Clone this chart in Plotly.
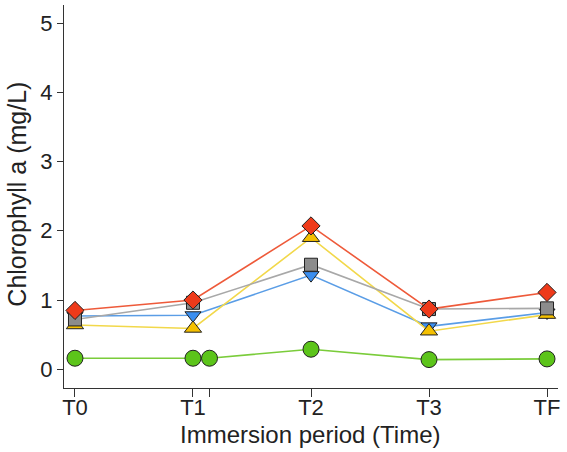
import plotly.graph_objects as go

# Data
time_labels = ["T0", "T1", "T2", "T3", "TF"]
time_pos = [0, 1, 2, 3, 4]
extra_tick = 1.14

red_vals = [0.85, 1.00, 2.07, 0.87, 1.11]
gray_vals = [0.72, 0.96, 1.51, 0.87, 0.88]
blue_vals = [0.77, 0.78, 1.36, 0.62, 0.82]
yellow_vals = [0.64, 0.59, 1.90, 0.55, 0.79]
green_pos = [0, 1, 1.14, 2, 3, 4]
green_vals = [0.16, 0.16, 0.16, 0.29, 0.14, 0.15]

FONT = "Liberation Sans, Arial, Helvetica, sans-serif"

fig = go.Figure()

def add(x, y, line_color, fill, symbol, size):
    fig.add_trace(go.Scatter(
        x=x, y=y, mode="lines+markers",
        line=dict(color=line_color, width=1.6),
        marker=dict(symbol=symbol, size=size, color=fill,
                    line=dict(color="#222222", width=1)),
        showlegend=False, hoverinfo="x+y"))

add(green_pos, green_vals, "#7acc3a", "#5cc41a", "circle", 16)
add(time_pos, blue_vals, "#5a9de6", "#3a8ef0", "triangle-down", 14)
add(time_pos, yellow_vals, "#f2d84a", "#f5c000", "triangle-up", 15)
add(time_pos, gray_vals, "#a8a8a8", "#8c8c8c", "square", 13)
add(time_pos, red_vals, "#ee5a3a", "#ee3a1a", "diamond", 14)

fig.update_layout(
    width=567, height=452,
    margin=dict(l=64, r=9, t=5, b=64),
    paper_bgcolor="white", plot_bgcolor="white",
    font=dict(family=FONT, size=22, color="#222222"),
)
fig.update_xaxes(
    range=[-0.093, 4.093],
    tickvals=[0] + [1, extra_tick] + time_pos[2:],
    ticktext=[time_labels[0], time_labels[1], ""] + time_labels[2:],
    ticks="outside", ticklen=8, tickcolor="#333333", tickwidth=1,
    showline=True, linecolor="#333333", linewidth=1,
    showgrid=False, zeroline=False, automargin=False,
    tickfont=dict(size=22), ticklabelstandoff=-8,
)
fig.update_yaxes(
    range=[-0.27, 5.26],
    tickvals=[0, 1, 2, 3, 4, 5],
    ticks="outside", ticklen=6, tickcolor="#333333", tickwidth=1,
    showline=True, linecolor="#333333", linewidth=1,
    showgrid=False, zeroline=False, automargin=False,
    tickfont=dict(size=22),
)
fig.add_annotation(text="Immersion period (Time)", xref="paper", yref="paper",
                   x=0.498, y=-0.122, xanchor="center", yanchor="middle",
                   showarrow=False, font=dict(size=24))
fig.add_annotation(text="Chlorophyll a (mg/L)", xref="paper", yref="paper",
                   x=-0.095, y=0.505, xanchor="center", yanchor="middle",
                   textangle=-90, showarrow=False, font=dict(size=25))

fig.write_html("out.html", config={"displayModeBar": False},
               post_script="document.body.style.margin='0';document.body.style.padding='0';")
